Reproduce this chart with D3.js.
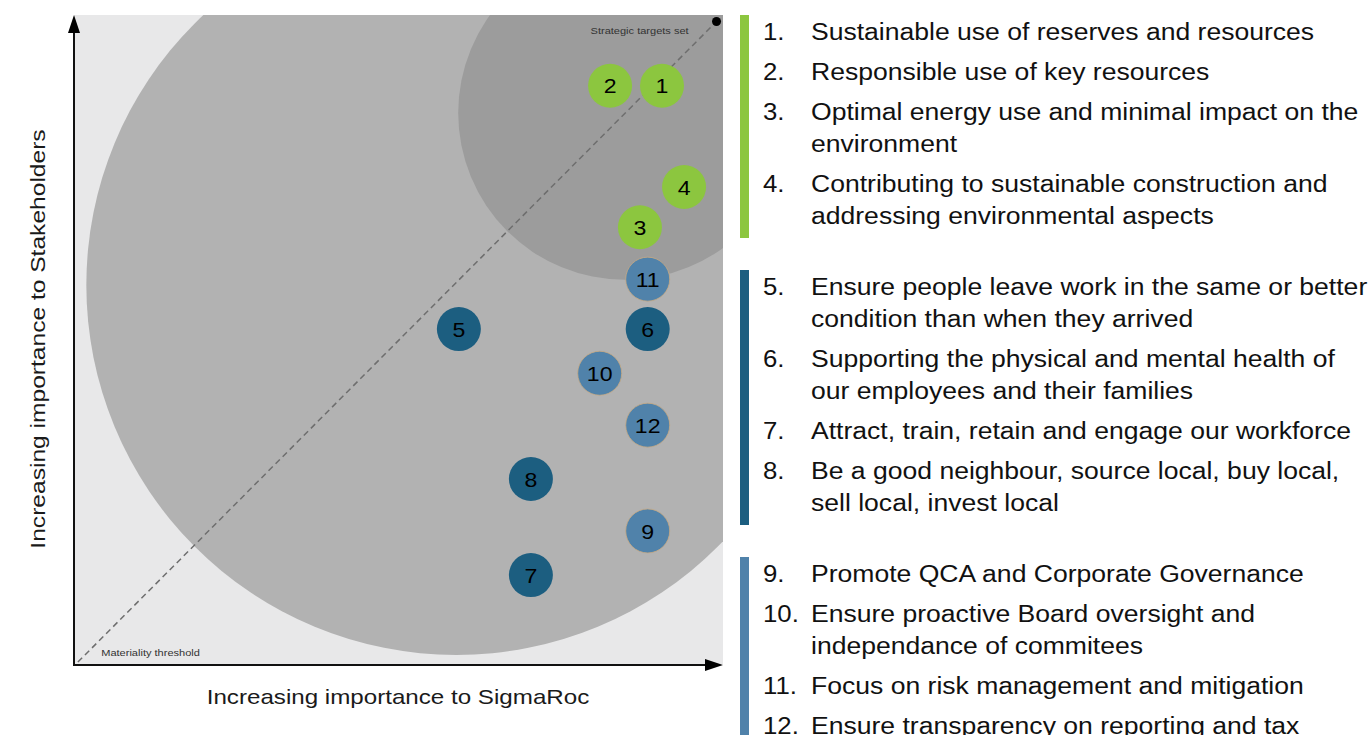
<!DOCTYPE html>
<html>
<head>
<meta charset="utf-8">
<script src="https://cdn.jsdelivr.net/npm/d3@7/dist/d3.min.js"></script>
<style>
  html, body { margin: 0; padding: 0; background: #fff; }
  svg { display: block; }
  text { font-family: "Liberation Sans", Arial, Helvetica, sans-serif; }
</style>
</head>
<body>
<svg id="chart" width="1372" height="735"></svg>
<script>
// ---- data ----
const ids      = [1, 2, 3, 4, 5, 6, 7, 8, 9, 10, 11, 12];
const xValues  = [9.06, 8.26, 8.72, 9.40, 5.93, 8.84, 7.04, 7.04, 8.84, 8.10, 8.84, 8.84];
const yValues  = [8.91, 8.91, 6.73, 7.35, 5.16, 5.16, 1.37, 2.85, 2.05, 4.48, 5.93, 3.68];
const groups   = ["env", "env", "env", "env", "people", "people", "people", "people", "gov", "gov", "gov", "gov"];
const groupColors = { env: "#8cc63f", people: "#1c5e80", gov: "#5082aa" };

// zones: [cx, cy, r] in data units
const zoneMateriality = [5.89, 5.84, 5.70];
const zoneStrategic   = [8.49, 8.49, 2.57];

const xTitle = "Increasing importance to SigmaRoc";
const yTitle = "Increasing importance to Stakeholders";
const zoneLabels = ["Strategic targets set", "Materiality threshold"];

const legendGroups = ["env", "people", "gov"];
const legendNumbers = ["1.", "2.", "3.", "4.", "5.", "6.", "7.", "8.", "9.", "10.", "11.", "12."];
const legendLines = [
  ["Sustainable use of reserves and resources"],
  ["Responsible use of key resources"],
  ["Optimal energy use and minimal impact on the", "environment"],
  ["Contributing to sustainable construction and", "addressing environmental aspects"],
  ["Ensure people leave work in the same or better", "condition than when they arrived"],
  ["Supporting the physical and mental health of", "our employees and their families"],
  ["Attract, train, retain and engage our workforce"],
  ["Be a good neighbour, source local, buy local,", "sell local, invest local"],
  ["Promote QCA and Corporate Governance"],
  ["Ensure proactive Board oversight and", "independance of commitees"],
  ["Focus on risk management and mitigation"],
  ["Ensure transparency on reporting and tax"]
];

// ---- helpers ----
function stretch(sel, k) {
  sel.each(function () {
    const w = this.getComputedTextLength();
    d3.select(this).attr("textLength", w * k).attr("lengthAdjust", "spacingAndGlyphs");
  });
  return sel;
}

// ---- layout ----
const svg = d3.select("#chart");
const plot = { left: 74, right: 723, top: 15, bottom: 664 };
const x = d3.scaleLinear().domain([0, 10]).range([plot.left, plot.right]);
const y = d3.scaleLinear().domain([0, 10]).range([plot.bottom, plot.top]);
const rs = d => x(d) - x(0);

const defs = svg.append("defs");
defs.append("clipPath").attr("id", "plotclip")
  .append("rect").attr("x", plot.left).attr("y", plot.top)
  .attr("width", plot.right - plot.left).attr("height", plot.bottom - plot.top);

const g = svg.append("g").attr("clip-path", "url(#plotclip)");
g.append("rect").attr("x", plot.left).attr("y", plot.top)
  .attr("width", plot.right - plot.left).attr("height", plot.bottom - plot.top)
  .attr("fill", "#e8e8e9");

g.append("circle").attr("cx", x(zoneMateriality[0])).attr("cy", y(zoneMateriality[1]))
  .attr("r", rs(zoneMateriality[2])).attr("fill", "#b2b2b2");
g.append("circle").attr("cx", x(zoneStrategic[0])).attr("cy", y(zoneStrategic[1]))
  .attr("r", rs(zoneStrategic[2])).attr("fill", "#9c9c9c");

// diagonal dashed line
g.append("line")
  .attr("x1", x(0.06)).attr("y1", y(0.03))
  .attr("x2", x(9.9)).attr("y2", y(9.9))
  .attr("stroke", "#6e6e6e").attr("stroke-width", 1.5).attr("stroke-dasharray", "6,4");
svg.append("circle").attr("cx", x(9.9)).attr("cy", y(9.9)).attr("r", 4.5).attr("fill", "#000");

// zone labels
stretch(svg.append("text").attr("x", x(9.47)).attr("y", y(9.71)).attr("text-anchor", "end")
  .attr("font-size", 9.5).attr("fill", "#333").text(zoneLabels[0]), 1.16);
stretch(svg.append("text").attr("x", x(0.42)).attr("y", y(0.12)).attr("text-anchor", "start")
  .attr("font-size", 9.5).attr("fill", "#333").text(zoneLabels[1]), 1.16);

// bubbles
const pts = ids.map((id, i) => ({ id, x: xValues[i], y: yValues[i], g: groups[i] }));
const bub = svg.append("g").selectAll("g").data(pts).join("g")
  .attr("transform", d => `translate(${x(d.x)},${y(d.y)})`);
bub.append("circle").attr("r", 22).attr("fill", d => groupColors[d.g])
  .attr("stroke", d => d.g === "gov" ? "#c8a983" : "none").attr("stroke-width", 0.8);
stretch(bub.append("text").attr("text-anchor", "middle").attr("dy", "0.36em")
  .attr("font-size", 21).attr("fill", "#000").text(d => d.id), 1.1);

// axes
const axis = svg.append("g");
axis.append("line").attr("x1", plot.left).attr("y1", plot.bottom + 1)
  .attr("x2", plot.left).attr("y2", plot.top + 14)
  .attr("stroke", "#111").attr("stroke-width", 2);
axis.append("path")
  .attr("d", `M${plot.left - 6},${plot.top + 18} L${plot.left},${plot.top} L${plot.left + 6},${plot.top + 18} Z`)
  .attr("fill", "#000");
axis.append("line").attr("x1", plot.left - 1).attr("y1", plot.bottom + 1)
  .attr("x2", plot.right - 14).attr("y2", plot.bottom + 1)
  .attr("stroke", "#111").attr("stroke-width", 2);
axis.append("path")
  .attr("d", `M${plot.right - 18},${plot.bottom - 5} L${plot.right},${plot.bottom + 1} L${plot.right - 18},${plot.bottom + 7} Z`)
  .attr("fill", "#000");

stretch(svg.append("text").attr("x", 398).attr("y", 704)
  .attr("text-anchor", "middle").attr("font-size", 21).attr("fill", "#1a1a1a").text(xTitle), 1.15);
stretch(svg.append("text").attr("transform", `translate(45,339) rotate(-90)`)
  .attr("text-anchor", "middle").attr("font-size", 21).attr("fill", "#1a1a1a").text(yTitle), 1.17);

// legend
const leg = svg.append("g");
const lineGap = 32, itemGap = 40, groupGap = 71;
let cy = 32;
legendGroups.forEach((grp) => {
  const idxs = ids.map((d, i) => i).filter(i => groups[i] === grp);
  const start = cy;
  idxs.forEach((i, k) => {
    stretch(leg.append("text").attr("x", 763).attr("y", cy).attr("dy", "0.35em")
      .attr("font-size", 23).attr("fill", "#111").text(legendNumbers[i]), 1.12);
    legendLines[i].forEach((ln, li) => {
      stretch(leg.append("text").attr("x", 811).attr("y", cy + li * lineGap).attr("dy", "0.35em")
        .attr("font-size", 23).attr("fill", "#111").text(ln), 1.154);
    });
    const last = cy + (legendLines[i].length - 1) * lineGap;
    cy = (k < idxs.length - 1) ? last + itemGap : last;
  });
  leg.insert("rect", ":first-child").attr("x", 740).attr("y", start - 17)
    .attr("width", 9).attr("height", cy - start + 39).attr("fill", groupColors[grp]);
  cy += groupGap;
});
</script>
</body>
</html>
